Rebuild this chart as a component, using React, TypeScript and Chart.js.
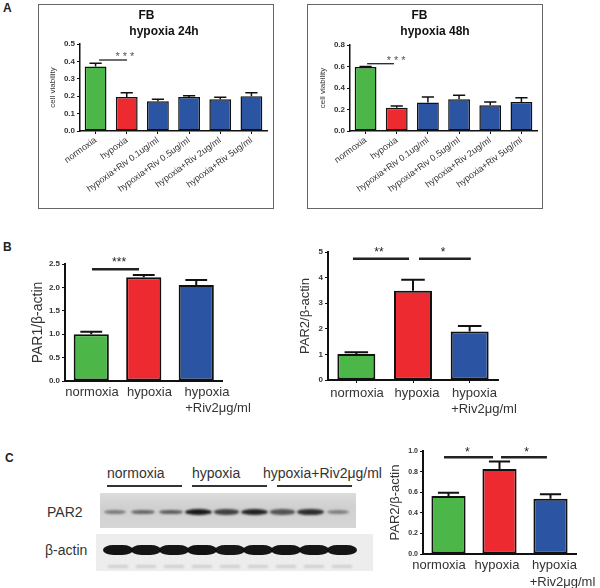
import React, { useEffect, useRef } from 'react';
import { Chart, registerables } from 'chart.js';

Chart.register(...registerables);

const FONT = "'Liberation Sans', Arial, Helvetica, sans-serif";

// ---------- Panel A data ----------
const aCategories = [
  'normoxia',
  'hypoxia',
  'hypoxia+Riv 0.1ug/ml',
  'hypoxia+Riv 0.5ug/ml',
  'hypoxia+Riv 2ug/ml',
  'hypoxia+Riv 5ug/ml',
];
const a24Values = [0.37, 0.195, 0.171, 0.195, 0.182, 0.2];
const a24Errors = [0.02, 0.025, 0.011, 0.007, 0.012, 0.02];
const a24Ticks = [0, 0.1, 0.2, 0.3, 0.4, 0.5];
const a48Values = [0.595, 0.217, 0.264, 0.295, 0.239, 0.27];
const a48Errors = [0.005, 0.016, 0.052, 0.037, 0.031, 0.04];
const a48Ticks = [0, 0.2, 0.4, 0.6, 0.8];

// ---------- Panel B data ----------
const bCategories: (string | string[])[] = ['normoxia', 'hypoxia', ['hypoxia', '+Riv2μg/ml']];
const par1Values = [1.0, 2.215, 2.05];
const par1Errors = [0.05, 0.05, 0.11];
const par1Ticks = [0, 0.5, 1.0, 1.5, 2.0, 2.5];
const par2Values = [1.02, 3.49, 1.89];
const par2Errors = [0.06, 0.43, 0.22];
const par2Ticks = [0, 1, 2, 3, 4, 5];

// ---------- Panel C data ----------
const cValues = [0.563, 0.825, 0.537];
const cErrors = [0.032, 0.074, 0.042];
const cTicks = [0, 0.2, 0.4, 0.6, 0.8, 1.0];
const blotGroups = ['normoxia', 'hypoxia', 'hypoxia+Riv2μg/ml'];
const par2BandIntensity = [0.45, 0.55, 0.6, 0.95, 0.75, 0.9, 0.65, 0.85, 0.42];
const actinBandIntensity = [0.96, 0.95, 0.95, 0.97, 0.94, 0.95, 0.95, 0.95, 0.95];

const GREEN = '#4cb748';
const RED = '#ed2a30';
const BLUE = '#2b55a3';
const aColors = [GREEN, RED, BLUE, BLUE, BLUE, BLUE];
const bColors = [GREEN, RED, BLUE];

interface Sig { from: number; to: number; y: number; text: string; tx: number; }
interface Spec {
  box: { x: number; y: number; w: number; h: number };
  area: { l: number; t: number; r: number; b: number };
  labels: (string | string[])[];
  values: number[];
  errors: number[];
  colors: string[];
  yTicks: number[];
  yDecimals: number;
  yTitle: string;
  yTitleSize: number;
  yTitleDx: number;
  yTickFont: number;
  rotated: boolean;
  rotation?: number;
  xFont: number;
  xTickMarks: boolean;
  labelDx?: number[][];
  labelDy?: number;
  labelGap?: number;
  barPct: number;
  barBorder: number;
  axisWidth: number;
  errWidth: number;
  capRatio: number;
  sigs: Sig[];
  sigWidth: number;
  sigFont: number;
  sigColor: string;
  sigTextDy: number;
  titles?: { text: string; dx: number; dy: number }[];
}

function makeDecor(spec: Spec) {
  return {
    id: 'decor',
    afterDraw(chart: any) {
      const ctx: CanvasRenderingContext2D = chart.ctx;
      const xs = chart.scales.x;
      const ys = chart.scales.y;
      const area = chart.chartArea;
      const meta = chart.getDatasetMeta(0);
      ctx.save();
      // error bars (upper only)
      ctx.strokeStyle = '#111';
      ctx.lineWidth = spec.errWidth;
      spec.values.forEach((v, i) => {
        const bar = meta.data[i] as any;
        const x = bar.x;
        const w = bar.width;
        const y0 = ys.getPixelForValue(v);
        const y1 = ys.getPixelForValue(v + spec.errors[i]);
        ctx.beginPath();
        ctx.moveTo(x, y0);
        ctx.lineTo(x, y1);
        ctx.moveTo(x - w * spec.capRatio, y1);
        ctx.lineTo(x + w * spec.capRatio, y1);
        ctx.stroke();
      });
      // significance lines
      spec.sigs.forEach((s) => {
        const y = ys.getPixelForValue(s.y);
        ctx.strokeStyle = '#222';
        ctx.lineWidth = spec.sigWidth;
        ctx.beginPath();
        ctx.moveTo(xs.getPixelForValue(s.from), y);
        ctx.lineTo(xs.getPixelForValue(s.to), y);
        ctx.stroke();
        ctx.fillStyle = spec.sigColor;
        ctx.font = `${spec.sigFont}px ${FONT}`;
        ctx.textAlign = 'center';
        ctx.textBaseline = 'middle';
        ctx.fillText(s.text, xs.getPixelForValue(s.tx), y + spec.sigTextDy);
      });
      // titles
      (spec.titles || []).forEach((t) => {
        ctx.fillStyle = '#111';
        ctx.font = `bold 12px ${FONT}`;
        ctx.textAlign = 'center';
        ctx.textBaseline = 'middle';
        ctx.fillText(t.text, area.left + t.dx, area.top + t.dy);
      });
      // y title
      ctx.save();
      ctx.translate(area.left - spec.yTitleDx, (area.top + area.bottom) / 2);
      ctx.rotate(-Math.PI / 2);
      ctx.fillStyle = '#333';
      ctx.font = `${spec.yTitleSize}px ${FONT}`;
      ctx.textAlign = 'center';
      ctx.textBaseline = 'middle';
      ctx.fillText(spec.yTitle, 0, 0);
      ctx.restore();
      // x labels (non-rotated)
      if (!spec.rotated) {
        ctx.fillStyle = '#333';
        ctx.font = `${spec.xFont}px ${FONT}`;
        ctx.textAlign = 'center';
        ctx.textBaseline = 'middle';
        spec.labels.forEach((lab, i) => {
          const lines = Array.isArray(lab) ? lab : [lab];
          const cx = xs.getPixelForValue(i);
          lines.forEach((ln, j) => {
            const dx = spec.labelDx ? spec.labelDx[i][j] || 0 : 0;
            ctx.fillText(ln, cx + dx, area.bottom + (spec.labelDy || 12) + j * (spec.labelGap || 16));
          });
        });
      }
      ctx.restore();
    },
  };
}

function BarPanel({ spec }: { spec: Spec }) {
  const ref = useRef<HTMLCanvasElement>(null);
  useEffect(() => {
    const c = ref.current!;
    const { box, area } = spec;
    const yW = area.l - box.x;
    const xH = box.y + box.h - area.b;
    const chart = new Chart(c, {
      type: 'bar',
      data: {
        labels: spec.labels as any,
        datasets: [
          {
            data: spec.values,
            backgroundColor: spec.colors,
            borderColor: '#111',
            borderWidth: spec.barBorder,
            borderSkipped: false,
            barPercentage: spec.barPct,
            categoryPercentage: 1,
          },
        ],
      },
      options: {
        responsive: false,
        animation: false,
        events: [],
        layout: { padding: { left: 0, top: area.t - box.y, right: box.x + box.w - area.r, bottom: 0 } },
        plugins: { legend: { display: false }, tooltip: { enabled: false }, title: { display: false } },
        scales: {
          x: {
            offset: true,
            grid: {
              display: true,
              drawOnChartArea: false,
              drawTicks: spec.xTickMarks,
              tickLength: 3,
              offset: false,
              color: '#111',
              tickColor: '#111',
            },
            border: { display: true, color: '#111', width: spec.axisWidth },
            ticks: spec.rotated
              ? {
                  display: true,
                  autoSkip: false,
                  minRotation: spec.rotation,
                  maxRotation: spec.rotation,
                  font: { size: spec.xFont, family: FONT },
                  color: '#333',
                  padding: 1,
                }
              : { display: false },
            afterFit: (s: any) => {
              s.height = xH;
            },
          },
          y: {
            min: 0,
            max: spec.yTicks[spec.yTicks.length - 1],
            afterBuildTicks: (s: any) => {
              s.ticks = spec.yTicks.map((v) => ({ value: v }));
            },
            ticks: {
              font: { size: spec.yTickFont, weight: 'bold', family: FONT },
              color: '#333',
              padding: 2,
              callback: (v: any) => Number(v).toFixed(spec.yDecimals),
            },
            grid: { drawOnChartArea: false, drawTicks: true, tickLength: 3, color: '#111', tickColor: '#111' },
            border: { color: '#111', width: spec.axisWidth },
            afterFit: (s: any) => {
              s.width = yW;
            },
          },
        },
      } as any,
      plugins: [makeDecor(spec)],
    });
    return () => chart.destroy();
  }, []);
  return (
    <div style={{ position: 'absolute', left: spec.box.x, top: spec.box.y, width: spec.box.w, height: spec.box.h }}>
      <canvas ref={ref} width={spec.box.w} height={spec.box.h} />
    </div>
  );
}

const aCommon = {
  labels: aCategories,
  colors: aColors,
  yDecimals: 1,
  yTitle: 'cell viability',
  yTitleSize: 8,
  yTitleDx: 27,
  yTickFont: 8,
  rotated: true,
  rotation: 36,
  xFont: 9,
  xTickMarks: true,
  barPct: 0.7,
  barBorder: 1.5,
  axisWidth: 1.5,
  errWidth: 1.5,
  capRatio: 0.28,
  sigWidth: 1.3,
  sigFont: 11,
  sigColor: '#555',
  sigTextDy: -3,
};

const specA24: Spec = {
  ...aCommon,
  box: { x: 39, y: 5, w: 234, h: 203 },
  area: { l: 80, t: 44, r: 267, b: 131 },
  values: a24Values,
  errors: a24Errors,
  yTicks: a24Ticks,
  sigs: [{ from: 0.11, to: 1.01, y: 0.408, text: '* * *', tx: 0.94 }],
  titles: [
    { text: 'FB', dx: 66.5, dy: -28 },
    { text: 'hypoxia 24h', dx: 84, dy: -12 },
  ],
};

const specA48: Spec = {
  ...aCommon,
  box: { x: 308, y: 5, w: 234, h: 203 },
  area: { l: 350, t: 45, r: 537, b: 131 },
  values: a48Values,
  errors: a48Errors,
  yTicks: a48Ticks,
  sigs: [{ from: 0.05, to: 0.91, y: 0.626, text: '* * *', tx: 0.98 }],
  titles: [
    { text: 'FB', dx: 69.5, dy: -29 },
    { text: 'hypoxia 48h', dx: 85, dy: -13 },
  ],
};

const bCommon = {
  labels: bCategories,
  colors: bColors,
  rotated: false,
  xFont: 13,
  barPct: 0.67,
  barBorder: 2,
  axisWidth: 2,
  errWidth: 2,
  capRatio: 0.31,
  sigWidth: 2.5,
  sigFont: 12,
  sigColor: '#222',
  sigTextDy: -6,
  labelGap: 16,
};

const specPar1: Spec = {
  ...bCommon,
  box: { x: 0, y: 240, w: 290, h: 180 },
  area: { l: 65, t: 264, r: 222.5, b: 381 },
  values: par1Values,
  errors: par1Errors,
  yTicks: par1Ticks,
  yDecimals: 1,
  yTitle: 'PAR1/β-actin',
  yTitleSize: 14,
  yTitleDx: 27,
  yTickFont: 8,
  xTickMarks: false,
  labelDx: [[0.75], [5.75], [10.75, 21.75]],
  labelDy: 11,
  sigs: [{ from: 0.014, to: 0.91, y: 2.39, text: '***', tx: 0.53 }],
};

const specPar2: Spec = {
  ...bCommon,
  box: { x: 290, y: 240, w: 290, h: 180 },
  area: { l: 328, t: 252, r: 498, b: 380 },
  values: par2Values,
  errors: par2Errors,
  yTicks: par2Ticks,
  yDecimals: 0,
  yTitle: 'PAR2/β-actin',
  yTitleSize: 13,
  yTitleDx: 23,
  yTickFont: 8,
  xTickMarks: true,
  labelDx: [[0.7], [4], [4.8, 14.3]],
  labelDy: 13,
  sigs: [
    { from: -0.06, to: 0.93, y: 4.74, text: '**', tx: 0.4 },
    { from: 1.106, to: 2.02, y: 4.74, text: '*', tx: 1.53 },
  ],
};

const specC: Spec = {
  ...bCommon,
  box: { x: 380, y: 430, w: 220, h: 158 },
  area: { l: 423, t: 451, r: 576, b: 554 },
  values: cValues,
  errors: cErrors,
  yTicks: cTicks,
  yDecimals: 1,
  yTitle: 'PAR2/β-actin',
  yTitleSize: 13,
  yTitleDx: 28,
  yTickFont: 7,
  xTickMarks: false,
  labelDx: [[-9.5], [-2.5], [4, 12]],
  labelDy: 11,
  labelGap: 17,
  sigTextDy: -4,
  sigs: [
    { from: -0.088, to: 0.873, y: 0.94, text: '*', tx: 0.37 },
    { from: 1.03, to: 1.93, y: 0.94, text: '*', tx: 1.53 },
  ],
};

function Blot() {
  const groupX = [107, 192, 263];
  const lineX = [107, 192, 277];
  return (
    <>
      {blotGroups.map((g, i) => (
        <div
          key={g}
          style={{
            position: 'absolute',
            left: groupX[i],
            top: 464,
            fontFamily: FONT,
            fontSize: 14,
            lineHeight: '18px',
            color: '#333',
            whiteSpace: 'nowrap',
          }}
        >
          {g}
        </div>
      ))}
      {lineX.map((x, i) => (
        <div key={i} style={{ position: 'absolute', left: x, top: 485, width: 75, height: 1.5, background: '#333' }} />
      ))}
      <div style={{ position: 'absolute', left: 47, top: 503, fontFamily: FONT, fontSize: 14, lineHeight: '18px', color: '#333' }}>PAR2</div>
      <div style={{ position: 'absolute', left: 45, top: 541, fontFamily: FONT, fontSize: 14, lineHeight: '18px', color: '#333' }}>β-actin</div>
      <div
        style={{
          position: 'absolute',
          left: 100,
          top: 493,
          width: 256,
          height: 35,
          background: 'linear-gradient(#dcdcdc, #d0d0d0 40%, #d6d6d6)',
        }}
      />
      {par2BandIntensity.map((v, i) => {
        const cx = 115 + i * 27.9;
        const w = 18 + 10 * v;
        const h = 2.5 + 4 * v;
        return (
          <div
            key={'p' + i}
            style={{
              position: 'absolute',
              left: cx - w / 2,
              top: 512 - h / 2,
              width: w,
              height: h,
              borderRadius: '50%',
              background: `rgba(15,15,15,${v})`,
              filter: 'blur(0.8px)',
            }}
          />
        );
      })}
      <div style={{ position: 'absolute', left: 96, top: 534, width: 277, height: 37, background: '#ededed' }} />
      {actinBandIntensity.map((v, i) => {
        const cx = 118 + i * 28;
        return (
          <React.Fragment key={'a' + i}>
            <div
              style={{
                position: 'absolute',
                left: cx - 15,
                top: 545,
                width: 30,
                height: 10,
                borderRadius: '35% / 50%',
                background: `rgba(10,10,10,${v})`,
                filter: 'blur(0.7px)',
              }}
            />
            <div
              style={{
                position: 'absolute',
                left: cx - 10,
                top: 565,
                width: 20,
                height: 3,
                background: 'rgba(0,0,0,0.12)',
                filter: 'blur(0.8px)',
              }}
            />
          </React.Fragment>
        );
      })}
    </>
  );
}

const letterStyle: React.CSSProperties = {
  position: 'absolute',
  fontFamily: FONT,
  fontWeight: 'bold',
  fontSize: 12,
  lineHeight: '14px',
  color: '#222',
};

export default function App() {
  return (
    <div style={{ position: 'absolute', left: 0, top: 0, width: 600, height: 588, background: '#fff', overflow: 'hidden' }}>
      <div style={{ ...letterStyle, left: 3, top: 1 }}>A</div>
      <div style={{ ...letterStyle, left: 3, top: 240 }}>B</div>
      <div style={{ ...letterStyle, left: 5, top: 451 }}>C</div>
      <div style={{ position: 'absolute', left: 38, top: 4, width: 236, height: 205, border: '1.5px solid #666', boxSizing: 'border-box' }} />
      <div style={{ position: 'absolute', left: 307, top: 4, width: 236, height: 205, border: '1.5px solid #666', boxSizing: 'border-box' }} />
      <BarPanel spec={specA24} />
      <BarPanel spec={specA48} />
      <BarPanel spec={specPar1} />
      <BarPanel spec={specPar2} />
      <Blot />
      <BarPanel spec={specC} />
    </div>
  );
}
